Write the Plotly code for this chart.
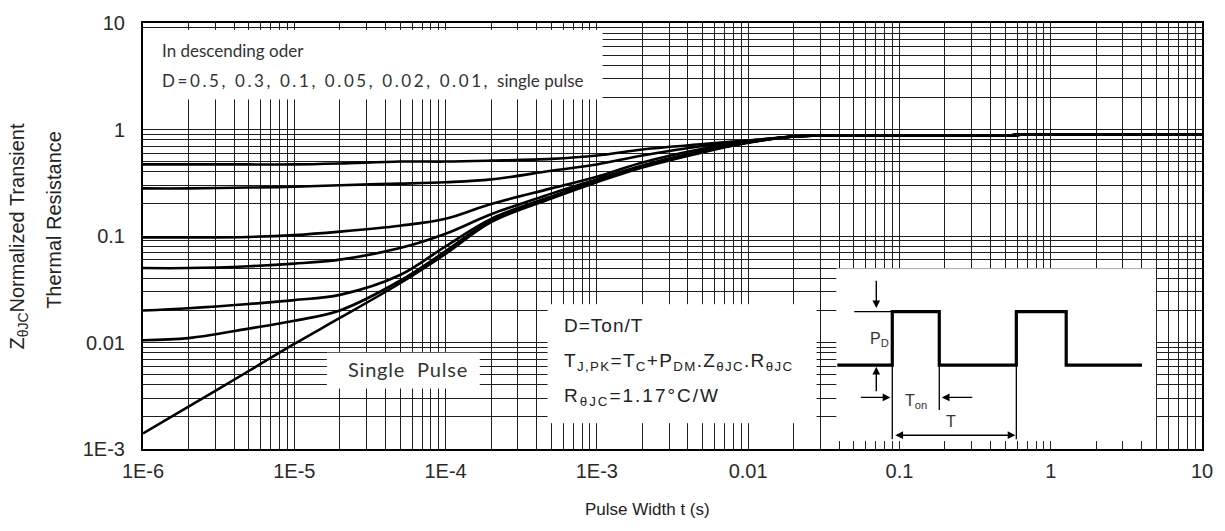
import plotly.graph_objects as go

# ---------------- data ----------------
pulse_width = [1e-6, 2e-6, 5e-6, 1e-5, 2e-5, 5e-5, 1e-4, 2e-4, 5e-4, 1e-3,
               2e-3, 5e-3, 1e-2, 2e-2, 3e-2, 0.1, 0.55, 0.65, 1, 10]
z_d050 = [0.47, 0.47, 0.47, 0.47, 0.48, 0.50, 0.50, 0.51, 0.53, 0.57,
          0.65, 0.73, 0.79, 0.86, 0.88, 0.88, 0.88, 0.90, 0.90, 0.90]
z_d030 = [0.28, 0.28, 0.285, 0.29, 0.30, 0.31, 0.32, 0.34, 0.41, 0.47,
          0.57, 0.70, 0.78, 0.86, 0.88, 0.88, 0.88, 0.90, 0.90, 0.90]
z_d010 = [0.097, 0.097, 0.098, 0.102, 0.11, 0.125, 0.145, 0.20, 0.28, 0.36,
          0.49, 0.66, 0.77, 0.86, 0.88, 0.88, 0.88, 0.90, 0.90, 0.90]
z_d005 = [0.050, 0.050, 0.052, 0.055, 0.060, 0.077, 0.105, 0.16, 0.25, 0.34,
          0.46, 0.63, 0.76, 0.86, 0.88, 0.88, 0.88, 0.90, 0.90, 0.90]
z_d002 = [0.020, 0.021, 0.023, 0.025, 0.028, 0.043, 0.080, 0.145, 0.235, 0.33,
          0.45, 0.62, 0.76, 0.86, 0.88, 0.88, 0.88, 0.90, 0.90, 0.90]
z_d001 = [0.0105, 0.011, 0.0135, 0.016, 0.020, 0.038, 0.072, 0.14, 0.23, 0.33,
          0.45, 0.62, 0.755, 0.86, 0.88, 0.88, 0.88, 0.90, 0.90, 0.90]
z_single = [0.0014, 0.0025, 0.0054, 0.0097, 0.017, 0.036, 0.068, 0.135, 0.225, 0.32,
            0.44, 0.61, 0.75, 0.86, 0.88, 0.88, 0.88, 0.90, 0.90, 0.90]
series = [("D=0.5", z_d050), ("D=0.3", z_d030), ("D=0.1", z_d010), ("D=0.05", z_d005),
          ("D=0.02", z_d002), ("D=0.01", z_d001), ("Single Pulse", z_single)]

x_major = [1e-6, 1e-5, 1e-4, 1e-3, 1e-2, 1e-1, 1, 10]
x_tick_labels = ["1E-6", "1E-5", "1E-4", "1E-3", "0.01", "0.1", "1", "10"]
y_major = [1e-3, 1e-2, 1e-1, 1, 10]
y_tick_labels = ["1E-3", "0.01", "0.1", "1", "10"]

# inset waveform (schematic, inset axis units 0-100)
wave_t = [0.3, 17.5, 17.5, 32.2, 32.2, 56.3, 56.3, 71.9, 71.9, 95.6]
wave_p = [44, 44, 75, 75, 44, 44, 75, 75, 44, 44]


def minor_vals(majors):
    out = []
    for m in majors[:-1]:
        out += [m * k for k in range(2, 10)]
    return out


fig = go.Figure()
for name, vals in series:
    fig.add_trace(go.Scatter(x=pulse_width, y=vals, mode="lines", name=name,
                             line=dict(color="black", width=2.6, shape="spline", smoothing=1.0),
                             showlegend=False, xaxis="x", yaxis="y"))

# white boxes: empty overlay subplots (their white background hides the grid)
boxes = [(0.0, 0.434, 0.8205, 0.9837),     # "In descending order" box
         (0.1736, 0.318, 0.142, 0.226),     # "Single Pulse" box
         (0.382, 0.636, 0.0606, 0.340)]     # formula box
blank = dict(showgrid=False, showline=False, zeroline=False, showticklabels=False, ticks="",
             range=[0, 1], fixedrange=True)
layout_axes = {}
for i, (x0, x1, y0, y1) in enumerate(boxes):
    n = i + 3
    fig.add_trace(go.Scatter(x=[], y=[], xaxis=f"x{n}", yaxis=f"y{n}", showlegend=False))
    layout_axes[f"xaxis{n}"] = dict(domain=[x0, x1], anchor=f"y{n}", **blank)
    layout_axes[f"yaxis{n}"] = dict(domain=[y0, y1], anchor=f"x{n}", **blank)

fig.add_trace(go.Scatter(x=wave_t, y=wave_p, mode="lines", showlegend=False,
                         line=dict(color="black", width=3.2), xaxis="x2", yaxis="y2"))

GRID = "#1e1e1e"
TICKFONT = dict(family="Arial, Liberation Sans, sans-serif", size=20, color="#2a2a2a")

fig.update_layout(
    width=1225, height=531,
    margin=dict(l=143, r=22, t=20, b=82),
    paper_bgcolor="white", plot_bgcolor="white",
    xaxis=dict(type="log", range=[-6, 1], tickmode="array", tickvals=x_major, ticktext=x_tick_labels,
               showgrid=True, gridcolor=GRID, gridwidth=1.3, ticks="",
               minor=dict(tickmode="array", tickvals=minor_vals(x_major), showgrid=True,
                          gridcolor=GRID, gridwidth=1.3, ticks=""),
               showline=True, mirror=True, linecolor="black", linewidth=2,
               zeroline=False, tickfont=TICKFONT, ticklabelstandoff=3),
    yaxis=dict(type="log", range=[-3, 1], tickmode="array", tickvals=y_major, ticktext=y_tick_labels,
               showgrid=True, gridcolor=GRID, gridwidth=1.3, ticks="",
               minor=dict(tickmode="array", tickvals=minor_vals(y_major), showgrid=True,
                          gridcolor=GRID, gridwidth=1.3, ticks=""),
               showline=True, mirror=True, linecolor="black", linewidth=2,
               zeroline=False, tickfont=TICKFONT, ticklabelstandoff=12),
    xaxis2=dict(domain=[0.6547, 0.9566], range=[0, 100], anchor="y2",
                showgrid=False, showline=False, zeroline=False, showticklabels=False, ticks=""),
    yaxis2=dict(domain=[0.0186, 0.424], range=[0, 100], anchor="x2",
                showgrid=False, showline=False, zeroline=False, showticklabels=False, ticks=""),
    **layout_axes,
)

# thin reference lines in inset
thin = dict(color="black", width=1.3)
shapes = [
    dict(type="line", xref="x2", yref="y2", x0=5.6, x1=17.5, y0=75, y1=75, line=thin),
    dict(type="line", xref="x2", yref="y2", x0=17.5, x1=17.5, y0=1, y1=75, line=thin),
    dict(type="line", xref="x2", yref="y2", x0=32.2, x1=32.2, y0=18, y1=44, line=thin),
    dict(type="line", xref="x2", yref="y2", x0=56.3, x1=56.3, y0=1, y1=75, line=thin),
]
fig.update_layout(shapes=shapes)

ann = []
BOXFONT = dict(family="Lato, Open Sans, sans-serif", size=17, color="#333333")
ann.append(dict(xref="paper", yref="paper", x=0.016, y=0.935, xanchor="left", yanchor="middle",
                text="In descending oder", showarrow=False, font=BOXFONT))
ann.append(dict(xref="paper", yref="paper", x=0.016, y=0.865, xanchor="left", yanchor="middle",
                text="<span style='letter-spacing:2.6px'>D=0.5, 0.3, 0.1, 0.05, 0.02, 0.01, </span>single pulse",
                showarrow=False, font=BOXFONT))
ann.append(dict(xref="paper", yref="paper", x=0.1915, y=0.188, xanchor="left", yanchor="middle",
                text="<span style='letter-spacing:0.8px'>Single  Pulse</span>", showarrow=False,
                font=dict(family="Lato, Open Sans, sans-serif", size=20, color="#333333")))
FF = dict(family="Arial, Liberation Sans, sans-serif", size=19, color="#222222")
ann.append(dict(xref="paper", yref="paper", x=0.396, y=0.289, xanchor="left", yanchor="middle",
                text="<span style='letter-spacing:1px'>D=Ton/T</span>", showarrow=False, font=FF))
ann.append(dict(xref="paper", yref="paper", x=0.396, y=0.205, xanchor="left", yanchor="middle",
                text="<span style='letter-spacing:1.35px'>T<sub>J,PK</sub>=T<sub>C</sub>+P<sub>DM</sub>.Z<sub>θJC</sub>.R<sub>θJC</sub></span>",
                showarrow=False, font=FF))
ann.append(dict(xref="paper", yref="paper", x=0.396, y=0.121, xanchor="left", yanchor="middle",
                text="<span style='letter-spacing:2px'>R<sub>θJC</sub>=1.17°C/W</span>",
                showarrow=False, font=FF))
# inset labels
IF = dict(family="Arial, Liberation Sans, sans-serif", size=16, color="#333333")
ann.append(dict(xref="x2", yref="y2", x=13.6, y=59, text="P<sub>D</sub>", showarrow=False, font=IF))
ann.append(dict(xref="x2", yref="y2", x=25, y=23, text="T<sub>on</sub>", showarrow=False, font=IF))
ann.append(dict(xref="x2", yref="y2", x=36, y=11.5, text="T", showarrow=False, font=IF))
# inset arrows
arrows = [((12.5, 93.7), (12.5, 77), "end"), ((12.5, 28), (12.5, 43), "end"),
          ((7.2, 25.3), (16.9, 25.3), "end"), ((43, 25.3), (33, 25.3), "end"),
          ((18, 3.4), (56, 3.4), "end+start")]
for (tx, ty), (hx, hy), side in arrows:
    ann.append(dict(xref="x2", yref="y2", axref="x2", ayref="y2", x=hx, y=hy, ax=tx, ay=ty,
                    text="", showarrow=True, arrowhead=2, arrowsize=1.1, arrowwidth=1.4,
                    arrowcolor="black", arrowside=side, standoff=0, startstandoff=0))
# axis titles
TF = dict(family="Arial, Liberation Sans, sans-serif", size=20, color="#222222")
ann.append(dict(xref="paper", yref="paper", x=0.476, y=-0.142, xanchor="center", yanchor="middle",
                text="Pulse Width t (s)", showarrow=False,
                font=dict(family="Arial, Liberation Sans, sans-serif", size=17, color="#222222")))
ann.append(dict(xref="paper", yref="paper", x=-0.1179, y=0.499, xanchor="center", yanchor="middle",
                text="Z<sub>θJC</sub>Normalized Transient", textangle=-90, showarrow=False, font=TF))
ann.append(dict(xref="paper", yref="paper", x=-0.084, y=0.538, xanchor="center", yanchor="middle",
                text="Thermal Resistance", textangle=-90, showarrow=False, font=TF))
fig.update_layout(annotations=ann)

fig.write_html("out.html", config={"displayModeBar": False},
               post_script="document.body.style.margin='0px';")
